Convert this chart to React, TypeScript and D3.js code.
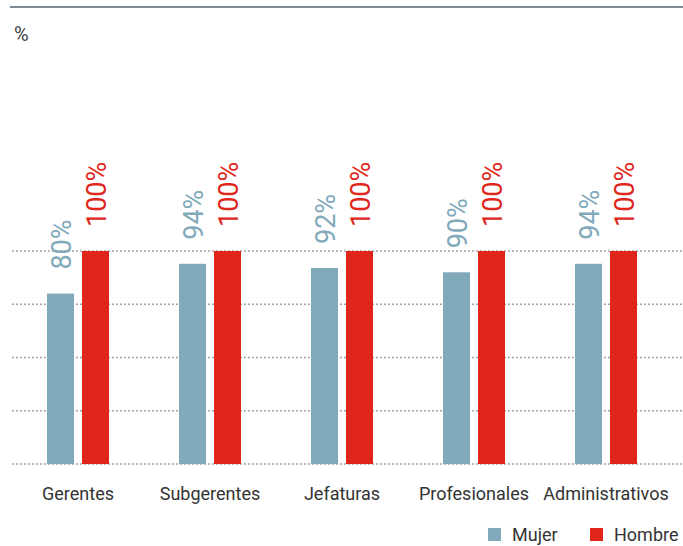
import React from "react";
import * as d3 from "d3";

const categories = ["Gerentes", "Subgerentes", "Jefaturas", "Profesionales", "Administrativos"];
const mujer = [80, 94, 92, 90, 94];
const hombre = [100, 100, 100, 100, 100];
const seriesNames = ["Mujer", "Hombre"];
const gridTicks = [0, 25, 50, 75, 100];

const W = 683;
const H = 546;
const COLORS = ["#80a9ba", "#e0261b"];
const FONT = "Roboto, 'Open Sans', sans-serif";

export default function App() {
  const x = d3.scaleBand<string>().domain(categories).range([12, 672]).paddingInner(0).paddingOuter(0);
  const y = d3.scaleLinear().domain([0, 100]).range([464, 251]);
  const barW = 27;
  const gap = 8;
  const series = [mujer, hombre];

  return (
    <svg width={W} height={H} style={{ position: "absolute", left: 0, top: 0, background: "#fff" }}>
      <line x1={10} x2={683} y1={7} y2={7} stroke="#7f8a93" strokeWidth={2} />
      <text x={14} y={41} fontFamily={FONT} fontSize={20} fill="#444">%</text>
      {gridTicks.map((t) => (
        <line key={t} x1={12} x2={683} y1={y(t)} y2={y(t)} stroke="#a3a3a3" strokeWidth={1.5} strokeDasharray="2 2" />
      ))}
      {categories.map((c, i) => {
        const cx = (x(c) as number) + x.bandwidth() / 2;
        return (
          <g key={c}>
            {series.map((s, k) => {
              const bx = cx - gap / 2 - barW + k * (barW + gap);
              const top = y(s[i]);
              return (
                <g key={k}>
                  <rect x={bx} y={top} width={barW} height={y(0) - top} fill={COLORS[k]} />
                  <text
                    transform={`translate(${bx + barW - 3},${top - 24}) rotate(-90)`}
                    fontFamily={FONT}
                    fontSize={27}
                    fill={COLORS[k]}
                  >
                    {s[i]}%
                  </text>
                </g>
              );
            })}
            <text x={Math.min(cx, 683 - 64)} y={500} textAnchor="middle" fontFamily={FONT} fontSize={18} fill="#333">
              {c}
            </text>
          </g>
        );
      })}
      {seriesNames.map((n, k) => {
        const lx = [488, 590][k];
        return (
          <g key={n}>
            <rect x={lx} y={528} width={13} height={13} fill={COLORS[k]} />
            <text x={lx + 24} y={541} fontFamily={FONT} fontSize={18} fill="#333">{n}</text>
          </g>
        );
      })}
    </svg>
  );
}
